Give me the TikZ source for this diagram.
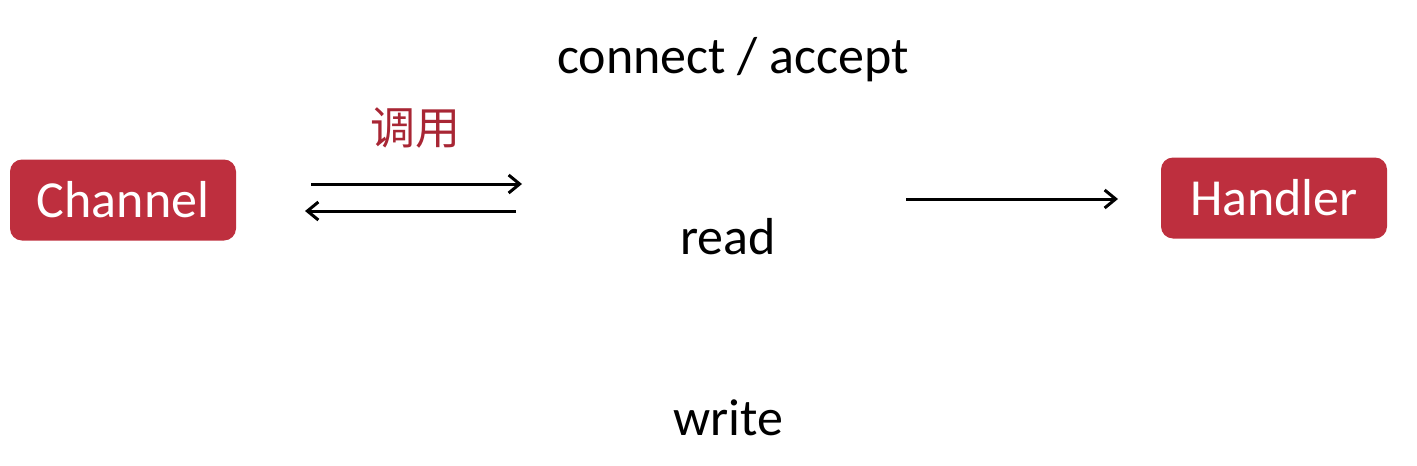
\documentclass[tikz,border=0pt]{standalone}
\usepackage{fontspec}
\setmainfont{Carlito}
\newfontfamily\cjk{Noto Sans CJK SC}
\usetikzlibrary{arrows.meta}
\definecolor{boxred}{RGB}{190,47,62}
\definecolor{labelred}{RGB}{168,38,52}

\begin{document}
\begin{tikzpicture}[->,>={Straight Barb[length=11pt,width=18pt,line width=3pt]},
                    x=1pt,y=-1pt]
  \tikzstyle{box}=[fill=boxred,draw=none,text=white,rounded corners=12pt,
                   minimum width=226pt,minimum height=81pt,font=\fontsize{52}{60}\selectfont]
  \tikzstyle{word}=[font=\fontsize{52}{60}\selectfont]
  \tikzstyle{link}=[draw,line width=3pt]
  \useasboundingbox (0,0) rectangle (1417,466);

  \node[box]  (channel) at (123,200)  {Channel};
  \node[box]  (handler) at (1274,198) {Handler};
  \node[word] (connect) at (733,60)   {connect / accept};
  \node[word] (read)    at (728,237)  {read};
  \node[word] (write)   at (728,418)  {write};
  \node[text=labelred,font=\cjk\fontsize{45}{52}\selectfont] (call) at (415,128) {调用};

  \coordinate (a1) at (311,184);
  \coordinate (b1) at (522,184);
  \coordinate (a2) at (516,211);
  \coordinate (b2) at (305,211);
  \coordinate (a3) at (906,199);
  \coordinate (b3) at (1118,199);

  \path (a1) edge[link] (b1)
        (a2) edge[link] (b2)
        (a3) edge[link] (b3)
  ; %end path

\end{tikzpicture}
\end{document}
